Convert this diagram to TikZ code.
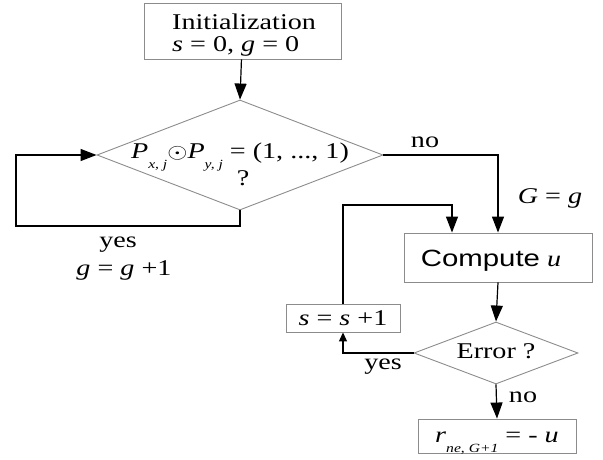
\documentclass[tikz,border=0pt]{standalone}
\usepackage{fontspec}
\setmainfont{Liberation Serif}
\newfontfamily\arialf{Liberation Sans}
\usetikzlibrary{shapes.geometric,arrows.meta}
\definecolor{boxgray}{RGB}{140,140,140}
\newcommand\wx[1]{\scalebox{1.25}[1]{#1}}
\newcommand\lowsub[1]{\raisebox{-0.45em}{\fontsize{12.5}{12.5}\selectfont\itshape #1}}
\begin{document}
\begin{tikzpicture}[x=1pt,y=-1pt,
  box/.style={draw=boxgray, line width=0.9pt, rectangle, inner sep=0pt},
  dia/.style={draw=boxgray, line width=0.9pt, diamond, inner sep=0pt},
  txt/.style={font=\fontsize{22.5}{27}\selectfont, inner sep=0pt},
  conn/.style={draw=black, line width=1.2pt},
  arr/.style={conn, -{Triangle[length=16pt,width=12pt]}},
  sarr/.style={conn, -{Triangle[length=9pt,width=8pt]}}]
\useasboundingbox (0,0) rectangle (603,460);
% nodes
\node[box, minimum width=197pt, minimum height=56pt] (init) at (242.5,31) {};
\node[txt, anchor=base west] (initA) at (172,30) {\wx{Initialization}};
\node[txt, anchor=base west] (initB) at (172,52) {\wx{\textit{s} = 0, \textit{g} = 0}};
\node[dia, minimum width=286pt, minimum height=110pt] (d1) at (240,155) {};
\node[txt, anchor=base] (d1A) at (240,158) {\wx{\textit{P}\lowsub{x, j}$\odot$\textit{P}\lowsub{y, j} = (1, ..., 1)}};
\node[txt, anchor=base] (d1B) at (243,185) {\wx{?}};
\node[box, minimum width=188pt, minimum height=49pt] (comp) at (498,257.5) {};
\node[txt, anchor=base] (compT) at (491,266) {\wx{{\arialf\fontsize{23.5}{27}\selectfont Compute} \textit{u}}};
\node[box, minimum width=114pt, minimum height=28pt] (sbox) at (343,318) {};
\node[txt, anchor=base] (sboxT) at (343,325) {\wx{\textit{s} = \textit{s} +1}};
\node[dia, minimum width=164pt, minimum height=62pt] (err) at (496,353) {};
\node[txt, anchor=base] (errT) at (496,358) {\wx{Error ?}};
\node[box, minimum width=158pt, minimum height=34pt] (rbox) at (497,436) {};
\node[txt, anchor=base] (rT) at (497,442) {\wx{\textit{r}\lowsub{ne, G+1} = - \textit{u}}};
% labels
\node[txt, anchor=base] (no1) at (425,147) {\wx{no}};
\node[txt, anchor=base] (Gg) at (550,203) {\wx{\textit{G} = \textit{g}}};
\node[txt, anchor=base] (yes1) at (118,247) {\wx{yes}};
\node[txt, anchor=base] (gg) at (124,275) {\wx{\textit{g} = \textit{g} +1}};
\node[txt, anchor=base] (yes2) at (383,369) {\wx{yes}};
\node[txt, anchor=base] (no2) at (523,402) {\wx{no}};
% coordinates
\coordinate (yl) at (16,226);
\coordinate (lt) at (452,205);
% connectors
\draw[arr] (init) -- (d1.north);
\draw[arr] (d1.south) |- (yl) |- (d1.west);
\draw[arr] (d1.east) -| (comp.north);
\draw[arr] (sbox.north) |- (lt) -- (lt |- comp.north);
\draw[arr] (comp.south) -- (err.north);
\draw[sarr] (err.west) -| (sbox.south);
\draw[arr] (err.south) -- (rbox.north);
\end{tikzpicture}
\end{document}
